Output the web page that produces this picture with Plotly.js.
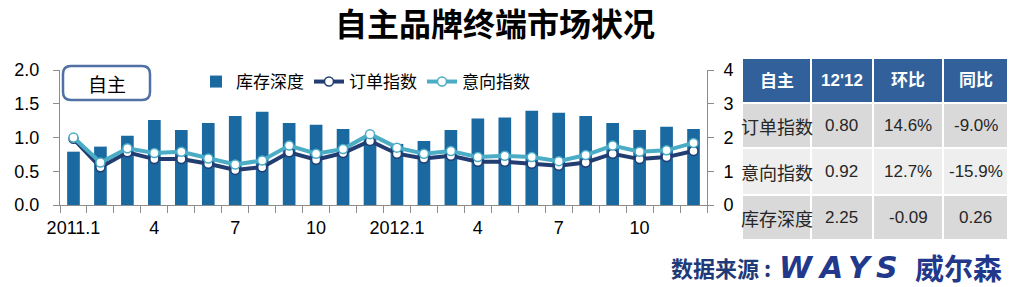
<!DOCTYPE html>
<html>
<head>
<meta charset="utf-8">
<script src="https://cdn.plot.ly/plotly-3.0.1.min.js"></script>
<style>html,body{margin:0;padding:0;background:#fff;}#chart{width:1010px;height:287px;}</style>
</head>
<body>
<div id="chart"></div>
<script>
// ---- data ----
const months = ['2011.1','2011.2','2011.3','2011.4','2011.5','2011.6','2011.7','2011.8','2011.9','2011.10','2011.11','2011.12',
                '2012.1','2012.2','2012.3','2012.4','2012.5','2012.6','2012.7','2012.8','2012.9','2012.10','2012.11','2012.12'];
const tickLabels = ['2011.1','','','4','','','7','','','10','','',
                    '2012.1','','','4','','','7','','','10','',''];
const inventoryDepth = [1.58,1.73,2.05,2.52,2.22,2.43,2.64,2.76,2.43,2.38,2.25,2.00,
                        1.81,1.90,2.22,2.56,2.59,2.79,2.73,2.64,2.43,2.22,2.32,2.25];
const orderIndex = [0.98,0.56,0.78,0.68,0.68,0.61,0.52,0.56,0.78,0.67,0.77,0.95,
                    0.76,0.69,0.73,0.64,0.64,0.61,0.58,0.63,0.76,0.68,0.71,0.80];
const intentIndex = [1.00,0.63,0.84,0.77,0.79,0.69,0.60,0.66,0.88,0.76,0.83,1.05,
                     0.85,0.76,0.80,0.71,0.73,0.71,0.65,0.74,0.88,0.79,0.81,0.92];
const seriesNames = ['库存深度','订单指数','意向指数'];
const boxLabel = '自主';
const chartTitle = '自主品牌终端市场状况';
const tableHeader = ['自主', "12'12", '环比', '同比'];
const tableRowNames = ['订单指数','意向指数','库存深度'];
const tableLatest = ['0.80','0.92','2.25'];
const tableMoM = ['14.6%','12.7%','-0.09'];
const tableYoY = ['-9.0%','-15.9%','0.26'];
const sourceLabel = '数据来源 :';
const logoLetters = ['W','A','Y','S'];
const logoCn = '威尔森';

// ---- layout helpers (pixel -> paper) ----
const W = 1010, H = 287;
const PL = 60, PR = 707, PT = 70, PB = 205;
const px = x => (x - PL) / (PR - PL);
const py = y => (PB - y) / (PB - PT);

const FONT = "'Liberation Sans', Arial, 'Noto Sans CJK SC', sans-serif";
const CJK = "'Noto Sans CJK SC', 'Liberation Sans', sans-serif";
const BAR = '#1a6aa1', DARK = '#213d72', LIGHT = '#4bacc6', AXIS = '#8c8c8c';
const NAVY = '#22388a';

const traces = [
  {type:'bar', name:seriesNames[0], x:months, y:inventoryDepth, yaxis:'y',
   marker:{color:BAR}, hoverinfo:'x+y'},
  {type:'scatter', mode:'lines+markers', name:seriesNames[1], x:months, y:orderIndex, yaxis:'y2',
   line:{color:DARK, width:4}, marker:{color:'#ffffff', size:9, line:{color:DARK, width:1.5}}},
  {type:'scatter', mode:'lines+markers', name:seriesNames[2], x:months, y:intentIndex, yaxis:'y2',
   line:{color:LIGHT, width:4}, marker:{color:'#ffffff', size:9, line:{color:LIGHT, width:1.5}}}
];

const shapes = [];
const annotations = [];

// rounded box "自主"
(function(){
  const x0=63,x1=150,y0=66,y1=100,r=8;
  const P=(x,y)=>px(x)+','+py(y);
  const path = 'M'+P(x0+r,y0)+' L'+P(x1-r,y0)+' Q'+P(x1,y0)+' '+P(x1,y0+r)+
    ' L'+P(x1,y1-r)+' Q'+P(x1,y1)+' '+P(x1-r,y1)+' L'+P(x0+r,y1)+' Q'+P(x0,y1)+' '+P(x0,y1-r)+
    ' L'+P(x0,y0+r)+' Q'+P(x0,y0)+' '+P(x0+r,y0)+' Z';
  shapes.push({type:'path', xref:'paper', yref:'paper', path:path, line:{color:'#5070a6', width:2.5}, fillcolor:'rgba(0,0,0,0)'});
  annotations.push({xref:'paper', yref:'paper', x:px(106.5), y:py(83), text:boxLabel, showarrow:false,
    xanchor:'center', yanchor:'middle', font:{family:CJK, size:19, color:'#000'}});
})();

// table
const colEdges = [742, 811, 873, 943, 1008];
const rowEdges = [58, 103, 148, 195, 240];
const rowFills = ['#31609a', '#d9d9d9', '#eeeeee', '#d9d9d9'];
const bodyCols = [tableRowNames, tableLatest, tableMoM, tableYoY];
for (let r = 0; r < 4; r++) {
  for (let c = 0; c < 4; c++) {
    shapes.push({type:'rect', xref:'paper', yref:'paper', layer:'below',
      x0:px(colEdges[c]), x1:px(colEdges[c+1]), y0:py(rowEdges[r]), y1:py(rowEdges[r+1]),
      fillcolor:rowFills[r], line:{color:'#ffffff', width:2}});
    const txt = r === 0 ? '<b>'+tableHeader[c]+'</b>' : bodyCols[c][r-1];
    annotations.push({xref:'paper', yref:'paper',
      x:px((colEdges[c]+colEdges[c+1])/2), y:py((rowEdges[r]+rowEdges[r+1])/2),
      text:txt, showarrow:false, xanchor:'center', yanchor:'middle',
      font:{family:(r>0 && c===0) ? CJK : FONT, size:(r>0 && c===0) ? 18 : 17, color:r===0 ? '#ffffff' : '#262626'}});
  }
}

// source line
annotations.push({xref:'paper', yref:'paper', x:px(773), y:py(267), text:'<b>'+sourceLabel+'</b>', showarrow:false,
  xanchor:'right', yanchor:'middle', font:{family:CJK, size:22, color:'#1f3a78'}});
const logoCenters = [796, 830, 860, 887];
logoLetters.forEach((ch, i) => {
  annotations.push({xref:'paper', yref:'paper', x:px(logoCenters[i]), y:py(267), text:'<b><i>'+ch+'</i></b>', showarrow:false,
    xanchor:'center', yanchor:'middle',
    font:{family:"'DejaVu Sans', 'Liberation Sans', sans-serif", size:30, color:NAVY}});
});
annotations.push({xref:'paper', yref:'paper', x:px(1004), y:py(267), text:'<b>'+logoCn+'</b>', showarrow:false,
  xanchor:'right', yanchor:'middle', font:{family:CJK, size:29, color:NAVY}});

const layout = {
  width: W, height: H,
  margin: {l: PL, r: W - PR, t: PT, b: H - PB, pad: 0},
  paper_bgcolor: '#ffffff', plot_bgcolor: 'rgba(0,0,0,0)',
  font: {family: FONT, size: 18, color: '#000'},
  title: {text: '<b>'+chartTitle+'</b>', x: 495/W, xanchor:'center', xref:'container',
          y: 1 - 25/H, yanchor:'middle', yref:'container', pad:{t:0,b:0,l:0,r:0},
          font: {family: CJK, size: 32, color: '#000'}},
  showlegend: true,
  legend: {orientation:'h', x: px(196), xanchor:'left', y: py(82), yanchor:'middle',
           font:{family:CJK, size:17, color:'#000'}, bgcolor:'rgba(0,0,0,0)', itemwidth:30, traceorder:'normal'},
  bargap: 0.53,
  xaxis: {type:'category', categoryorder:'array', categoryarray: months,
          tickmode:'array', tickvals: months, ticktext: tickLabels, tickson:'boundaries',
          ticks:'outside', ticklen:7, tickcolor:AXIS, tickwidth:1, ticklabelstandoff:6,
          showline:true, linecolor:AXIS, linewidth:1, showgrid:false, zeroline:false,
          tickangle:0, tickfont:{family:FONT, size:18, color:'#000'}, range:[-0.5, 23.5], fixedrange:true},
  yaxis: {side:'right', range:[0,4], dtick:1, tick0:0, ticks:'outside', ticklen:6, tickcolor:AXIS,
          showline:true, linecolor:AXIS, linewidth:1, showgrid:false, zeroline:false,
          tickfont:{family:FONT, size:18, color:'#000'}, ticklabelstandoff:6, fixedrange:true},
  yaxis2: {overlaying:'y', side:'left', range:[0,2], dtick:0.5, tick0:0, tickformat:'.1f',
           ticks:'outside', ticklen:6, tickcolor:AXIS, showline:true, linecolor:AXIS, linewidth:1,
           showgrid:false, zeroline:false, tickfont:{family:FONT, size:18, color:'#000'}, ticklabelstandoff:10, fixedrange:true},
  shapes: shapes,
  annotations: annotations
};

Plotly.newPlot('chart', traces, layout, {displayModeBar:false, staticPlot:true});
</script>
</body>
</html>
